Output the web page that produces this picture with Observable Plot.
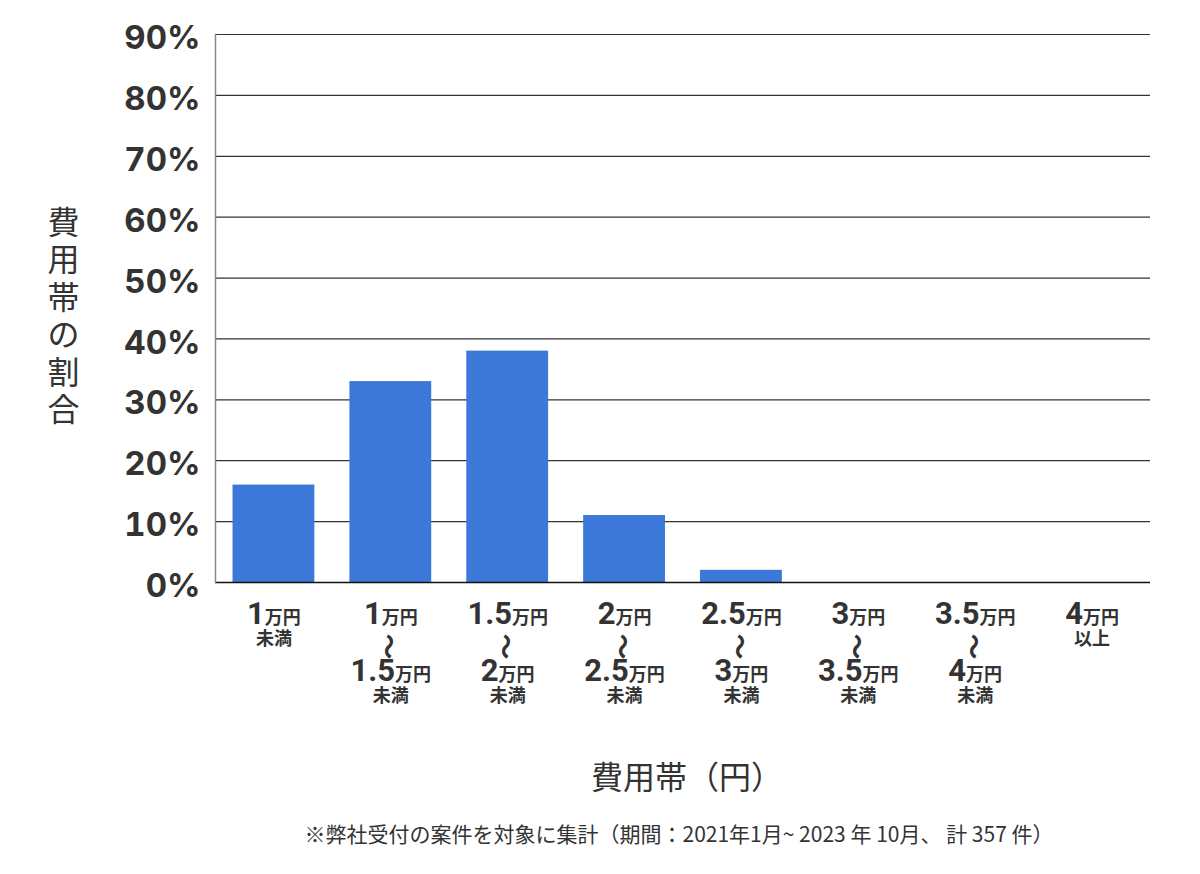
<!DOCTYPE html>
<html><head><meta charset="utf-8">
<script src="https://cdn.jsdelivr.net/npm/d3@7"></script>
<script src="https://cdn.jsdelivr.net/npm/@observablehq/plot@0.6"></script>
<style>body{margin:0;background:#fff;}</style>
</head><body><div id="chart"></div>
<script>
const categories = ["1万円未満","1万円〜1.5万円未満","1.5万円〜2万円未満","2万円〜2.5万円未満","2.5万円〜3万円未満","3万円〜3.5万円未満","3.5万円〜4万円未満","4万円以上"];
const shares = [16, 33, 38, 11, 2, 0, 0, 0];
const tickLines = [
  ["1万円", "未満"],
  ["1万円", "〜", "1.5万円", "未満"],
  ["1.5万円", "〜", "2万円", "未満"],
  ["2万円", "〜", "2.5万円", "未満"],
  ["2.5万円", "〜", "3万円", "未満"],
  ["3万円", "〜", "3.5万円", "未満"],
  ["3.5万円", "〜", "4万円", "未満"],
  ["4万円", "以上"]
];
const yTicks = [0, 10, 20, 30, 40, 50, 60, 70, 80, 90];
const yTitle = "費用帯の割合";
const xTitle = "費用帯（円）";
const note = "※弊社受付の案件を対象に集計（期間：2021年1月~ 2023 年 10月、 計 357 件）";

const data = categories.map((c, i) => ({category: c, share: shares[i]}));
const CJK = "'Noto Sans CJK JP', 'Noto Sans', sans-serif";

const plot = Plot.plot({
  width: 1200, height: 874,
  marginLeft: 215, marginRight: 50, marginTop: 34, marginBottom: 292,
  style: {fontFamily: CJK, color: "#333", background: "#fff"},
  x: {domain: categories, paddingInner: 0.3, paddingOuter: 0.15, round: false, label: null},
  y: {domain: [0, 90], label: null},
  marks: [
    Plot.gridY(yTicks, {stroke: "#333", strokeOpacity: 1, strokeWidth: 1.2}),
    Plot.barY(data, {x: "category", y: "share", fill: "#3c78d8"}),
    Plot.ruleY([0], {stroke: "#111", strokeWidth: 1.3}),
    Plot.frame({anchor: "left", stroke: "#888", strokeWidth: 1.5}),
    Plot.axisY(yTicks, {tickSize: 0, tickPadding: 15, tickFormat: d => d + "%", fontSize: 33, fontWeight: 700, fontFamily: "Inter, 'Noto Sans', sans-serif", dy: 4, label: null}),
    Plot.axisX({tickSize: 0, tickPadding: 0, tickFormat: d => tickLines[categories.indexOf(d)].join("\n"), label: null}),
    Plot.text([yTitle], {frameAnchor: "left", dx: -152, dy: 7, text: d => Array.from(d).join("\n"), lineHeight: 1.17, fontSize: 32, textAnchor: "middle", lineAnchor: "middle"}),
    Plot.text([xTitle], {frameAnchor: "bottom", dx: 4, dy: 196, fontSize: 32, lineAnchor: "middle"}),
    Plot.text([note], {frameAnchor: "bottom", dx: -4, dy: 253, fontSize: 21, lineAnchor: "middle"})
  ]
});
document.getElementById("chart").appendChild(plot);

// restyle x tick labels with mixed font sizes
d3.select(plot).selectAll('g[aria-label="x-axis tick label"] text').each(function(_, j) {
  const lines = tickLines[j];
  const t = d3.select(this);
  const tr = t.attr("transform") || "";
  t.text(null).attr("y", null).attr("dy", null);
  const ys = lines.length === 2 ? [41, 62] : [41, 64, 98, 119];
  lines.forEach((line, k) => {
    if (line === "〜") {
      d3.select(this.parentNode).append("text")
        .attr("transform", `${tr} translate(0,${ys[k]}) rotate(90)`)
        .attr("text-anchor", "middle").attr("dominant-baseline", "central")
        .attr("font-family", CJK).attr("font-weight", 700).attr("font-size", 26)
        .attr("fill", "#333").text("〜");
      return;
    }
    const m = line.match(/^([\d.]+)(.*)$/);
    if (m) {
      t.append("tspan").attr("x", 0).attr("y", ys[k])
        .attr("font-family", "Roboto, 'Liberation Sans', sans-serif").attr("font-weight", 700).attr("font-size", 31)
        .attr("fill", "#333").text(m[1]);
      t.append("tspan")
        .attr("font-family", CJK).attr("font-weight", 700).attr("font-size", 18)
        .attr("fill", "#333").text(m[2]);
    } else {
      t.append("tspan").attr("x", 0).attr("y", ys[k])
        .attr("font-family", CJK).attr("font-weight", 700).attr("font-size", 18)
        .attr("fill", "#333").text(line);
    }
  });
});
</script>
</body></html>
